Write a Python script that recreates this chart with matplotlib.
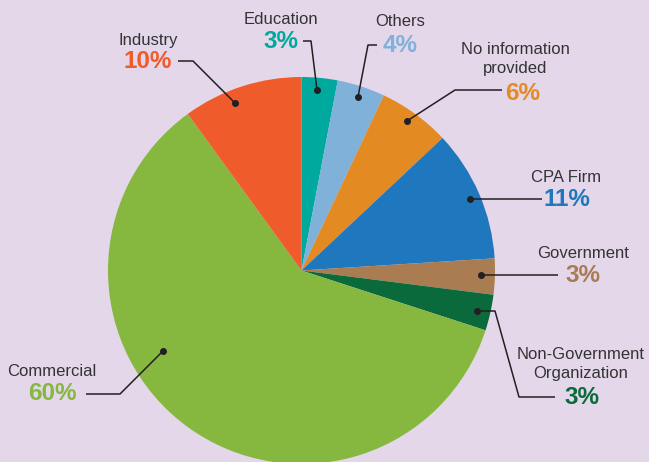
import matplotlib
matplotlib.use("Agg")
import matplotlib.pyplot as plt

categories = ["Education", "Others", "No information\nprovided", "CPA Firm", "Government",
              "Non-Government\nOrganization", "Commercial", "Industry"]
values = [3, 4, 6, 11, 3, 3, 60, 10]
pct_labels = ["3%", "4%", "6%", "11%", "3%", "3%", "60%", "10%"]
colors = ["#00a99d", "#80b1d9", "#e38a22", "#1f77bd", "#a97c51", "#0a6a3b", "#86b73f", "#f05b2b"]

BG = "#e4d7ea"
W, H = 649, 462
fig = plt.figure(figsize=(W / 100, H / 100), dpi=100, facecolor=BG)
ax = fig.add_axes([0, 0, 1, 1])
ax.set_facecolor(BG)

cx, cy, r = 301.5, H - 270.5, 193.5
ax.pie(values, colors=colors, startangle=90, counterclock=False, radius=r,
       center=(cx, cy), frame=True, wedgeprops=dict(linewidth=0))
ax.set_xlim(0, W)
ax.set_ylim(0, H)
ax.set_aspect("equal")
ax.axis("off")

FONT = ["Liberation Sans", "DejaVu Sans"]
TXT = "#333333"

def y(p):
    return H - p

# label layout: (name position, pct position, leader polyline in pixel coords)
layout = [
    ((281, 19), (281, 42), [(303, 41), (311, 41), (317, 90)]),
    ((400, 22), (400, 46), [(377, 45), (368, 45), (358, 97)]),
    ((515, 59), (523, 93), [(502, 90), (455, 90), (407, 121)]),
    ((566, 177), (567, 199), [(542, 199), (470, 199)]),
    ((583, 253), (583, 275), [(558, 275), (481, 275)]),
    ((581, 364), (582, 397), [(555, 397), (519, 397), (495, 311), (477, 311)]),
    ((52, 372), (52, 393), [(86, 394), (120, 394), (163, 351)]),
    ((148, 41), (148, 62), [(178, 61), (193, 61), (235, 103)]),
]

for cat, pct, col, (npos, ppos, line) in zip(categories, pct_labels, colors, layout):
    ax.text(npos[0], y(npos[1]), cat, ha="center", va="center", fontsize=12,
            family=FONT, color=TXT, linespacing=1.3)
    ax.text(ppos[0], y(ppos[1]), pct, ha="center", va="center", fontsize=17.5,
            family=FONT, fontweight="bold", color=col)
    xs = [p[0] for p in line]
    ys = [y(p[1]) for p in line]
    ax.plot(xs, ys, color="#231f20", lw=1.1, solid_capstyle="butt")
    ax.plot(xs[-1], ys[-1], "o", color="#231f20", ms=4)

fig.savefig("out.png", dpi=100, facecolor=BG)
